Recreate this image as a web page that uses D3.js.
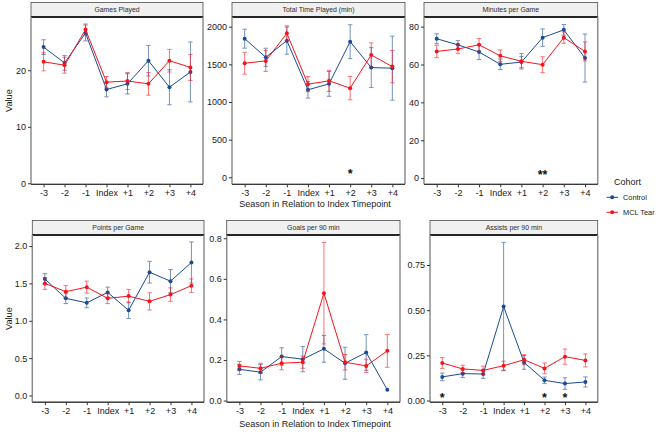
<!DOCTYPE html>
<html>
<head>
<meta charset="utf-8">
<script src="https://cdn.jsdelivr.net/npm/d3@7"></script>
<style>
  body { margin: 0; background: #fff; }
  text { font-family: "Liberation Sans", Arial, sans-serif; }
</style>
</head>
<body>
<svg id="chart" width="660" height="432"></svg>
<script>
// ---------------- DATA ----------------
const categories = ["-3", "-2", "-1", "Index", "+1", "+2", "+3", "+4"];
const cohorts = ["Control", "MCL Tear"];

// Games Played
const gamesControl    = [24.1, 21.3, 26.6, 16.6, 17.6, 21.7, 17.0, 19.7];
const gamesControlErr = [1.3, 1.3, 1.4, 1.3, 1.8, 2.7, 3.1, 5.3];
const gamesMcl        = [21.5, 20.9, 27.2, 17.9, 18.1, 17.6, 21.7, 20.5];
const gamesMclErr     = [1.6, 1.4, 1.0, 1.0, 1.5, 2.0, 2.0, 2.3];
const gamesTicks      = [0, 10, 20];

// Total Time Played (min)
const timeControl    = [1841, 1594, 1815, 1162, 1241, 1801, 1457, 1449];
const timeControlErr = [126, 120, 180, 110, 165, 225, 265, 425];
const timeMcl        = [1515, 1546, 1912, 1237, 1281, 1184, 1625, 1470];
const timeMclErr     = [145, 140, 100, 100, 140, 155, 160, 215];
const timeTicks      = [0, 500, 1000, 1500, 2000];
const timeStars      = [{ cat: "+2", label: "*" }];

// Minutes per Game
const minutesControl    = [73.6, 70.4, 66.6, 60.1, 61.3, 74.2, 78.3, 63.4];
const minutesControlErr = [2.6, 2.2, 4.0, 2.8, 3.0, 4.6, 2.8, 12.7];
const minutesMcl        = [66.9, 68.2, 70.4, 64.6, 61.7, 59.9, 74.2, 66.9];
const minutesMclErr     = [3.3, 2.3, 3.3, 3.1, 4.1, 4.2, 3.0, 5.0];
const minutesTicks      = [0, 20, 40, 60, 80];
const minutesStars      = [{ cat: "+2", label: "**" }];

// Points per Game
const pointsControl    = [1.56, 1.30, 1.24, 1.38, 1.14, 1.65, 1.53, 1.78];
const pointsControlErr = [0.07, 0.07, 0.065, 0.07, 0.11, 0.145, 0.155, 0.275];
const pointsMcl        = [1.50, 1.39, 1.45, 1.30, 1.33, 1.26, 1.35, 1.47];
const pointsMclErr     = [0.08, 0.08, 0.08, 0.07, 0.09, 0.115, 0.09, 0.09];
const pointsTicks      = [0, 0.5, 1.0, 1.5, 2.0];

// Goals per 90 min
const goalsControl    = [0.154, 0.140, 0.217, 0.204, 0.255, 0.184, 0.237, 0.053];
const goalsControlErr = [0.025, 0.038, 0.043, 0.062, 0.066, 0.079, 0.088, 0];
const goalsMcl        = [0.171, 0.159, 0.184, 0.189, 0.529, 0.189, 0.171, 0.245];
const goalsMclErr     = [0.022, 0.025, 0.032, 0.030, 0.250, 0.038, 0.033, 0.081];
const goalsTicks      = [0, 0.2, 0.4, 0.6, 0.8];

// Assists per 90 min
const assistsControl    = [0.131, 0.149, 0.147, 0.520, 0.211, 0.112, 0.094, 0.103];
const assistsControlErr = [0.021, 0.022, 0.024, 0.355, 0.038, 0.018, 0.032, 0.028];
const assistsMcl        = [0.208, 0.175, 0.167, 0.193, 0.226, 0.178, 0.243, 0.222];
const assistsMclErr     = [0.030, 0.020, 0.023, 0.025, 0.028, 0.030, 0.042, 0.036];
const assistsTicks      = [0, 0.25, 0.50, 0.75];
const assistsStars      = [{ cat: "-3", label: "*" }, { cat: "+2", label: "*" }, { cat: "+3", label: "*" }];

// ---------------- LAYOUT ----------------
const colors = { "Control": "#1a4b94", "MCL Tear": "#f5141c" };

const panels = [
  { title: "Games Played", ctrl: gamesControl, ctrlErr: gamesControlErr, mcl: gamesMcl, mclErr: gamesMclErr,
    ticks: gamesTicks, fmt: d3.format("d"), domain: [-0.18, 29.43], stars: [],
    x0: 31, x1: 203, top: 17, bottom: 184.3, ylab: true },
  { title: "Total Time Played (min)", ctrl: timeControl, ctrlErr: timeControlErr, mcl: timeMcl, mclErr: timeMclErr,
    ticks: timeTicks, fmt: d3.format("d"), domain: [-93, 2129], stars: timeStars,
    x0: 232, x1: 405, top: 17, bottom: 184.3, ylab: false },
  { title: "Minutes per Game", ctrl: minutesControl, ctrlErr: minutesControlErr, mcl: minutesMcl, mclErr: minutesMclErr,
    ticks: minutesTicks, fmt: d3.format("d"), domain: [-3.3, 85.1], stars: minutesStars,
    x0: 424, x1: 597.7, top: 17, bottom: 184.3, ylab: false },
  { title: "Points per Game", ctrl: pointsControl, ctrlErr: pointsControlErr, mcl: pointsMcl, mclErr: pointsMclErr,
    ticks: pointsTicks, fmt: d3.format(".1f"), domain: [-0.09, 2.148], stars: [],
    x0: 32.3, x1: 204, top: 235, bottom: 402.2, ylab: true },
  { title: "Goals per 90 min", ctrl: goalsControl, ctrlErr: goalsControlErr, mcl: goalsMcl, mclErr: goalsMclErr,
    ticks: goalsTicks, fmt: d3.format(".1f"), domain: [-0.008, 0.816], stars: [],
    x0: 226.7, x1: 400, top: 235, bottom: 402.2, ylab: false },
  { title: "Assists per 90 min", ctrl: assistsControl, ctrlErr: assistsControlErr, mcl: assistsMcl, mclErr: assistsMclErr,
    ticks: assistsTicks, fmt: d3.format(".2f"), domain: [-0.009, 0.916], stars: assistsStars,
    x0: 430, x1: 597.7, top: 235, bottom: 402.2, ylab: false }
];

const svg = d3.select("#chart");
const stripH = 14.5;

panels.forEach((p, i) => {
  const g = svg.append("g");
  const x = d3.scalePoint().domain(categories).range([p.x0, p.x1]).padding(0.6);
  const y = d3.scaleLinear().domain(p.domain).range([p.bottom, p.top]);

  // strip
  g.append("rect").attr("x", p.x0).attr("y", p.top - stripH).attr("width", p.x1 - p.x0).attr("height", stripH)
    .attr("fill", "#f0f0f0").attr("stroke", "#4d4d4d").attr("stroke-width", 0.8);
  g.append("line").attr("x1", p.x0).attr("x2", p.x1).attr("y1", p.top).attr("y2", p.top)
    .attr("stroke", "#262626").attr("stroke-width", 1.8);
  g.append("text").attr("x", (p.x0 + p.x1) / 2).attr("y", p.top - stripH / 2)
    .attr("text-anchor", "middle").attr("dominant-baseline", "central")
    .attr("font-size", 6.9).attr("fill", "#2b2b2b").text(p.title);

  // panel border (right gray)
  g.append("line").attr("x1", p.x1).attr("x2", p.x1).attr("y1", p.top).attr("y2", p.bottom)
    .attr("stroke", "#8c8c8c").attr("stroke-width", 1.5);

  // axes
  const xAxis = g.append("g").attr("transform", `translate(0,${p.bottom})`)
    .call(d3.axisBottom(x).tickSize(3).tickPadding(2));
  xAxis.select(".domain").attr("stroke", "#333").attr("stroke-width", 1)
    .attr("d", `M${p.x0},0H${p.x1}`);
  xAxis.selectAll(".tick line").attr("stroke", "#333");
  xAxis.selectAll(".tick text").attr("font-size", 9).attr("fill", "#1a1a1a")
    .attr("font-family", "Liberation Sans, Arial, sans-serif");

  const yAxis = g.append("g").attr("transform", `translate(${p.x0},0)`)
    .call(d3.axisLeft(y).tickValues(p.ticks).tickFormat(p.fmt).tickSize(3).tickPadding(2));
  yAxis.select(".domain").attr("stroke", "#8c8c8c").attr("stroke-width", 1.5)
    .attr("d", `M0,${p.top}V${p.bottom}`);
  yAxis.selectAll(".tick line").attr("stroke", "#333");
  yAxis.selectAll(".tick text").attr("font-size", 9).attr("fill", "#1a1a1a")
    .attr("font-family", "Liberation Sans, Arial, sans-serif");

  g.append("line").attr("x1", p.x0).attr("x2", p.x1).attr("y1", p.bottom).attr("y2", p.bottom)
    .attr("stroke", "#333").attr("stroke-width", 1);

  if (p.ylab) {
    const cy = (p.top + p.bottom) / 2;
    g.append("text").attr("transform", `translate(8.5,${cy}) rotate(-90)`)
      .attr("text-anchor", "middle").attr("dominant-baseline", "central")
      .attr("font-size", 9.2).attr("fill", "#1a1a1a").text("Value");
  }

  // series
  const series = [
    { name: "Control", vals: p.ctrl, errs: p.ctrlErr },
    { name: "MCL Tear", vals: p.mcl, errs: p.mclErr }
  ];
  const capW = 2.2;
  series.forEach(s => {
    const c = colors[s.name];
    const pts = categories.map((cat, k) => ({ cat, v: s.vals[k], e: s.errs[k] }));
    const eg = g.append("g").attr("stroke", c).attr("stroke-width", 1).attr("opacity", 0.6);
    pts.filter(d => d.e > 0).forEach(d => {
      const cx = x(d.cat);
      eg.append("line").attr("x1", cx).attr("x2", cx).attr("y1", y(d.v - d.e)).attr("y2", y(d.v + d.e));
      eg.append("line").attr("x1", cx - capW).attr("x2", cx + capW).attr("y1", y(d.v - d.e)).attr("y2", y(d.v - d.e));
      eg.append("line").attr("x1", cx - capW).attr("x2", cx + capW).attr("y1", y(d.v + d.e)).attr("y2", y(d.v + d.e));
    });
    g.append("path").datum(pts)
      .attr("fill", "none").attr("stroke", c).attr("stroke-width", 1)
      .attr("d", d3.line().x(d => x(d.cat)).y(d => y(d.v)));
    g.append("g").selectAll("circle").data(pts).join("circle")
      .attr("cx", d => x(d.cat)).attr("cy", d => y(d.v)).attr("r", 2)
      .attr("fill", c);
  });

  // significance stars
  p.stars.forEach(s => {
    g.append("text").attr("x", x(s.cat)).attr("y", y(0) + 1)
      .attr("text-anchor", "middle").attr("font-size", 12.5).attr("font-weight", "bold")
      .attr("fill", "#111").text(s.label);
  });
});

// x axis titles
[203.5, 424.3].forEach(yy => {
  svg.append("text").attr("x", 315).attr("y", yy).attr("text-anchor", "middle")
    .attr("dominant-baseline", "central").attr("font-size", 9).attr("fill", "#1a1a1a")
    .text("Season in Relation to Index Timepoint");
});

// legend
const lg = svg.append("g");
lg.append("text").attr("x", 614).attr("y", 181.5).attr("dominant-baseline", "central")
  .attr("font-size", 9).attr("fill", "#1a1a1a").text("Cohort");
cohorts.forEach((c, k) => {
  const yy = 197.3 + k * 15;
  lg.append("line").attr("x1", 606.5).attr("x2", 618).attr("y1", yy).attr("y2", yy)
    .attr("stroke", colors[c]).attr("stroke-width", 1);
  lg.append("circle").attr("cx", 612.2).attr("cy", yy).attr("r", 2).attr("fill", colors[c]);
  lg.append("text").attr("x", 623).attr("y", yy).attr("dominant-baseline", "central")
    .attr("font-size", 7.4).attr("fill", "#1a1a1a").text(c);
});
</script>
</body>
</html>
